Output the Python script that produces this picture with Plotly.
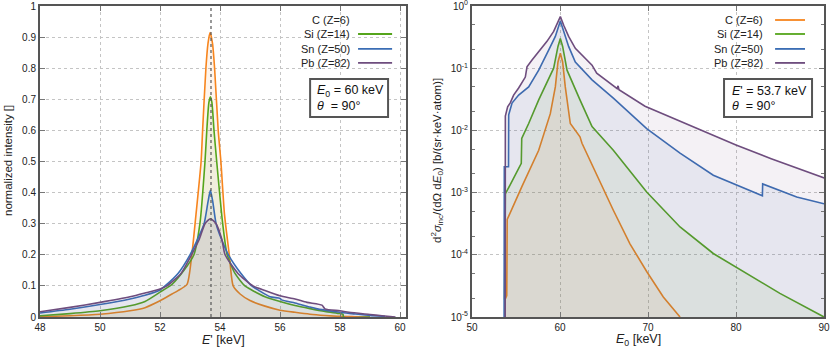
import numpy as np
import plotly.graph_objects as go
from plotly.subplots import make_subplots

# --- data -----------------------------------------------------------------
labels = ["C (Z=6)", "Si (Z=14)", "Sn (Z=50)", "Pb (Z=82)"]
colors = ["#f7851e", "#55a51c", "#3a6db4", "#6e4d7e"]
fills = ["rgba(247,133,30,0.08)", "rgba(85,165,28,0.08)",
         "rgba(58,109,180,0.08)", "rgba(110,77,126,0.08)"]

E_compton = 53.7

# left panel: normalized intensity vs E' [keV]
c_e = [48.0, 49.0, 50.0, 51.0, 51.5, 52.0, 52.4, 52.6, 52.9, 53.06, 53.2, 53.37, 53.42,
       53.53, 53.6, 53.67, 53.75, 53.82, 53.94, 54.03, 54.15, 54.31, 54.44, 54.67, 55.0,
       55.5, 56.0, 56.5, 57.0, 57.5, 58.0, 58.5, 59.0]
c_i = [0.001, 0.004, 0.009, 0.02, 0.03, 0.052, 0.074, 0.085, 0.105, 0.2, 0.33, 0.5, 0.6,
       0.8, 0.88, 0.915, 0.88, 0.8, 0.6, 0.5, 0.33, 0.2, 0.1, 0.074, 0.053,
       0.035, 0.022, 0.015, 0.009, 0.005, 0.002, 0.001, 0.0]

si_e = [48.0, 49.0, 50.0, 51.0, 51.5, 52.0, 52.4, 52.8, 53.13, 53.33, 53.5, 53.56, 53.63,
        53.68, 53.73, 53.8, 53.89, 54.09, 54.24, 54.5, 54.83, 55.0, 55.5, 56.0, 56.5,
        57.0, 57.5, 58.0, 58.1, 58.12, 59.0]
si_i = [0.004, 0.011, 0.02, 0.036, 0.05, 0.08, 0.105, 0.15, 0.2, 0.3, 0.5, 0.6, 0.69,
        0.708, 0.69, 0.6, 0.5, 0.3, 0.2, 0.14, 0.1, 0.09, 0.065, 0.05, 0.037,
        0.027, 0.018, 0.011, 0.009, 0.0, 0.0]

sn_e = [48.0, 49.0, 50.0, 51.0, 51.5, 52.0, 52.17, 52.6, 53.0, 53.3, 53.47, 53.6, 53.68,
        53.76, 53.87, 54.05, 54.28, 54.7, 55.06, 55.3, 55.67, 56.0, 56.05, 56.5, 57.0,
        57.2, 57.5, 58.0, 58.4, 59.0, 59.5]
sn_i = [0.013, 0.025, 0.04, 0.058, 0.07, 0.087, 0.1, 0.14, 0.2, 0.26, 0.3, 0.37, 0.407,
        0.37, 0.3, 0.25, 0.2, 0.14, 0.1, 0.085, 0.065, 0.06, 0.055, 0.045, 0.032,
        0.027, 0.022, 0.015, 0.011, 0.005, 0.002]

pb_e = [48.0, 49.0, 50.0, 51.0, 51.5, 52.0, 52.23, 52.7, 53.05, 53.31, 53.5, 53.68, 53.87,
        54.06, 54.17, 54.6, 55.1, 55.5, 56.0, 56.5, 56.9, 57.4, 57.5, 58.0, 58.3, 59.0,
        59.4, 59.85]
pb_i = [0.017, 0.031, 0.047, 0.065, 0.077, 0.09, 0.1, 0.14, 0.2, 0.25, 0.3, 0.316, 0.3,
        0.25, 0.2, 0.14, 0.1, 0.085, 0.068, 0.058, 0.047, 0.038, 0.026, 0.02, 0.015, 0.008,
        0.004, 0.0]

# right panel: d2sigma/(dOmega dE0) vs E0 [keV]
c_e0 = [53.72, 53.75, 53.95, 54.0, 55.68, 57.58, 58.9, 59.47, 59.77, 60.04, 60.3, 60.6,
        61.17, 62.27, 62.5, 63.64, 64.17, 66.06, 67.95, 69.85, 71.74, 73.64]
c_s = [1e-5, 1.9e-5, 2.2e-5, 3.7e-4, 1.26e-3, 4.8e-3, 0.0186, 0.05, 0.126, 0.174, 0.126, 0.05,
       0.0129, 7.9e-3, 6.2e-3, 2.75e-3, 2.0e-3, 5.2e-4, 1.5e-4, 5.4e-5, 2.1e-5, 1e-5]

si_e0 = [53.7, 53.79, 55.6, 55.65, 56.44, 57.58, 59.28, 59.77, 60.04, 60.3, 60.8, 61.74,
         62.27, 63.64, 66.06, 69.85, 73.64, 77.42, 81.2, 84.99, 90.0]
si_s = [1.9e-5, 9.5e-4, 2.95e-3, 7.4e-3, 0.0129, 0.031, 0.1, 0.224, 0.30, 0.224, 0.093, 0.045,
        0.031, 0.0115, 4.8e-3, 1.02e-3, 2.8e-4, 1.05e-4, 5.0e-5, 2.4e-5, 1e-5]

sn_e0 = [53.65, 53.67, 54.15, 54.17, 54.55, 55.3, 56.44, 57.58, 58.71, 59.47, 60.04, 60.42,
         60.98, 61.74, 62.27, 63.64, 66.06, 69.85, 73.64, 77.42, 83.0, 83.03, 86.9, 90.0]
sn_s = [1e-5, 2.6e-3, 2.6e-3, 0.0178, 0.0275, 0.037, 0.05, 0.093, 0.195, 0.324, 0.575, 0.39,
        0.224, 0.126, 0.105, 0.065, 0.033, 0.0107, 4.3e-3, 1.9e-3, 8.9e-4, 1.38e-3, 8.5e-4, 6.6e-4]

pb_e0 = [53.77, 53.79, 54.05, 54.36, 54.73, 55.3, 56.06, 56.25, 56.82, 57.58, 58.52, 59.28,
         59.66, 60.04, 60.42, 60.98, 61.74, 63.64, 64.17, 66.5, 66.6, 66.7, 69.66, 73.83,
         80.0, 84.0, 87.84, 90.1]
pb_s = [1e-5, 0.017, 0.024, 0.028, 0.037, 0.048, 0.072, 0.105, 0.135, 0.186, 0.27, 0.39,
        0.5, 0.676, 0.49, 0.324, 0.209, 0.112, 0.083, 0.047, 0.052, 0.045, 0.0245, 0.0138,
        5.8e-3, 3.5e-3, 2.2e-3, 1.7e-3]

left_series = [(c_e, c_i), (si_e, si_i), (sn_e, sn_i), (pb_e, pb_i)]
right_series = [(c_e0, c_s), (si_e0, si_s), (sn_e0, sn_s), (pb_e0, pb_s)]

# --- figure ---------------------------------------------------------------
FONT = "Liberation Sans, Arial, sans-serif"
W, H = 830, 347


def px(x):
    return x / W


def py(y):
    return 1 - y / H


fig = make_subplots(rows=1, cols=2)

for k in range(4):
    x, y = left_series[k]
    fig.add_trace(go.Scatter(x=x, y=y, mode="lines",
                             line=dict(color=colors[k], width=1.6, shape="spline", smoothing=0.6),
                             fill="tozeroy", fillcolor=fills[k], showlegend=False), row=1, col=1)
    x, y = right_series[k]
    fig.add_trace(go.Scatter(x=x, y=y, mode="lines", line=dict(color=colors[k], width=1.6),
                             fill="tozeroy", fillcolor=fills[k], showlegend=False), row=1, col=2)

fig.add_vline(x=E_compton, line=dict(color="#555", width=1.2, dash="3px,3px"), row=1, col=1)

ydom = [py(317), py(6)]
axis_common = dict(showline=True, linecolor="#555", linewidth=2, mirror="allticks",
                   ticks="inside", ticklen=5, tickcolor="#777", automargin=False,
                   ticklabeloverflow="allow",
                   showgrid=True, gridcolor="#c4c4c4", griddash="dot", gridwidth=1,
                   zeroline=False, tickfont=dict(size=10, color="#222", family=FONT))

fig.update_xaxes(axis_common, row=1, col=1, domain=[px(40), px(406)], range=[48, 60.2],
                 tickvals=[48, 50, 52, 54, 56, 58, 60])
fig.update_yaxes(axis_common, row=1, col=1, domain=ydom, range=[0, 1],
                 tickvals=[0, 0.1, 0.2, 0.3, 0.4, 0.5, 0.6, 0.7, 0.8, 0.9, 1],
                 ticktext=["0", "0.1", "0.2", "0.3", "0.4", "0.5", "0.6", "0.7", "0.8", "0.9", "1"])
fig.update_xaxes(axis_common, row=1, col=2, domain=[px(472), px(824)], range=[50, 90],
                 tickvals=[50, 60, 70, 80, 90])
fig.update_yaxes(axis_common, row=1, col=2, domain=ydom, type="log", range=[-5, 0],
                 tickvals=[1e-5, 1e-4, 1e-3, 1e-2, 1e-1, 1],
                 ticktext=["10<sup>-5</sup>", "10<sup>-4</sup>", "10<sup>-3</sup>",
                           "10<sup>-2</sup>", "10<sup>-1</sup>", "10<sup>0</sup>"],
                 minor=dict(ticks="inside", ticklen=3, tickcolor="#777", showgrid=False))

ann = []
shapes = []


def legend_block(xref, yref, text_x, l0, l1):
    rows = [0.955, 0.910, 0.862, 0.817]
    for k in range(4):
        ann.append(dict(x=text_x, y=rows[k], xref=xref, yref=yref, text=labels[k],
                        showarrow=False, xanchor="right", yanchor="middle",
                        font=dict(size=11, color="#222", family=FONT)))
        shapes.append(dict(type="line", xref=xref, yref=yref, x0=l0, x1=l1, y0=rows[k], y1=rows[k],
                           line=dict(color=colors[k], width=1.8)))


def info_box(xref, yref, x0, x1, tx, line1):
    shapes.append(dict(type="rect", xref=xref, yref=yref, x0=x0, x1=x1, y0=0.643, y1=0.765,
                       line=dict(color="#555", width=2), fillcolor="white"))
    ann.append(dict(x=tx, y=0.7255, xref=xref, yref=yref, text=line1, showarrow=False,
                    xanchor="left", yanchor="middle", font=dict(size=12.5, color="#111", family=FONT)))
    ann.append(dict(x=tx, y=0.677, xref=xref, yref=yref, text="<i>θ</i>  = 90°", showarrow=False,
                    xanchor="left", yanchor="middle", font=dict(size=12.5, color="#111", family=FONT)))


legend_block("x domain", "y domain", 0.8525, 0.869, 0.962)
legend_block("x2 domain", "y2 domain", 0.8324, 0.861, 0.946)
info_box("x domain", "y domain", 0.738, 0.951, 0.752, "<i>E</i><sub>0</sub> = 60 keV")
info_box("x2 domain", "y2 domain", 0.716, 0.966, 0.733, "<i>E</i>' = 53.7 keV")

title_font = dict(size=12.5, color="#222", family=FONT)
ann += [
    dict(x=px(223), y=py(340), xref="paper", yref="paper", text="<i>E</i>' [keV]",
         xanchor="center", yanchor="middle", showarrow=False, font=title_font),
    dict(x=px(638), y=py(340), xref="paper", yref="paper", text="<i>E</i><sub>0</sub> [keV]",
         xanchor="center", yanchor="middle", showarrow=False, font=title_font),
    dict(x=px(8), y=py(161), xref="paper", yref="paper", text="normalized intensity []",
         xanchor="center", yanchor="middle",
         showarrow=False, textangle=-90, font=dict(size=11.5, color="#222", family=FONT)),
    dict(x=px(437), y=py(161), xref="paper", yref="paper",
         text="d<sup>2</sup><i>σ</i><sub>inc</sub>/(dΩ d<i>E</i><sub>0</sub>) [b/(sr·keV·atom)]",
         xanchor="center", yanchor="middle",
         showarrow=False, textangle=-90, font=dict(size=11.5, color="#222", family=FONT)),
]

fig.update_layout(width=W, height=H, margin=dict(l=0, r=0, t=0, b=0),
                  plot_bgcolor="white", paper_bgcolor="white", showlegend=False,
                  annotations=ann, shapes=shapes, font=dict(family=FONT))

# the page body has a default 8px margin; remove it so the figure fills the window
fig.write_html("out.html", config={"displayModeBar": False},
               post_script="document.body.style.margin='0';")
